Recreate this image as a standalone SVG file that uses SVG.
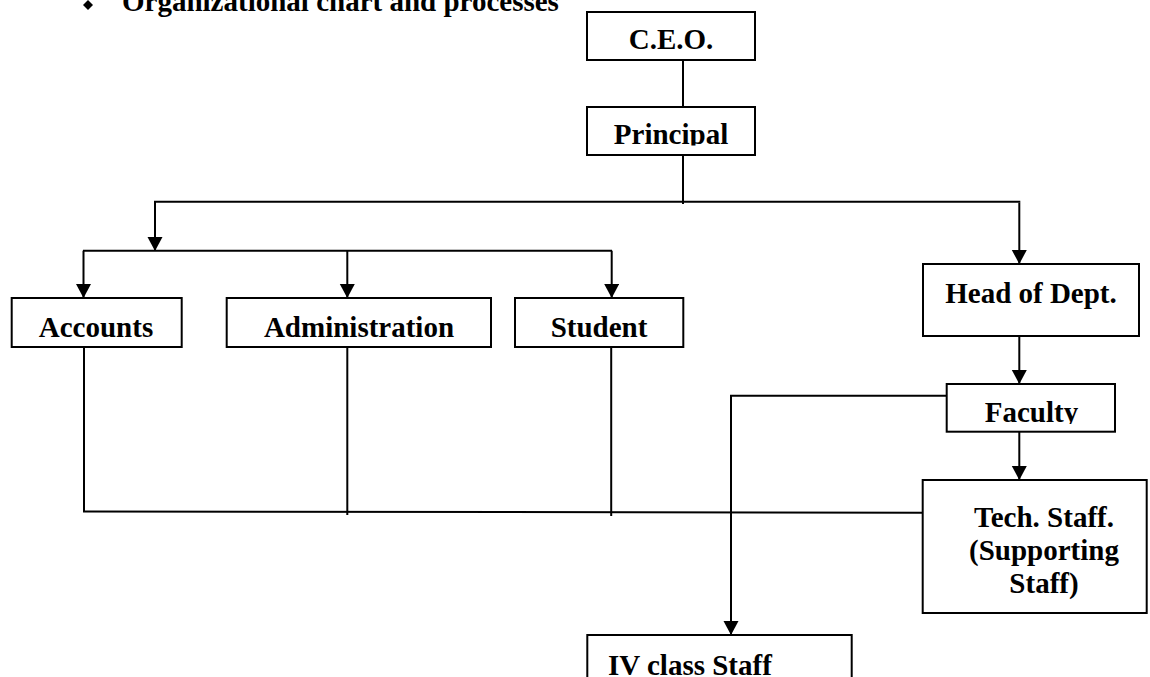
<svg xmlns="http://www.w3.org/2000/svg" width="1150" height="677" viewBox="0 0 1150 677">
<style>
.box{fill:#fff;stroke:#000;stroke-width:2}
.t{font-family:"Liberation Serif","Times New Roman",serif;font-weight:bold;font-size:29px;fill:#000}
.c{text-anchor:middle}
.ln{fill:none;stroke:#000;stroke-width:2}
</style>
<defs>
<marker id="ah" markerUnits="userSpaceOnUse" markerWidth="16" markerHeight="16" refX="14" refY="7.5" orient="auto">
<path d="M0,0 L14,7.5 L0,15 Z" fill="#000"/>
</marker>
<clipPath id="clipP"><rect x="587" y="107" width="168" height="38.5"/></clipPath>
<clipPath id="clipF"><rect x="946" y="384" width="170" height="40"/></clipPath>
</defs>
<rect width="1150" height="677" fill="#fff"/>
<g id="title">
<polygon points="88,0 93,5 88,10 83,5" fill="#000"/>
<text class="t" x="122" y="11">Organizational chart and processes</text>
</g>
<g id="connectors">
<line class="ln" x1="683" y1="60" x2="683" y2="107"/>
<line class="ln" x1="683" y1="155" x2="683" y2="204"/>
<line class="ln" x1="154" y1="201.7" x2="1020.3" y2="201.7"/>
<line class="ln" x1="155" y1="201.7" x2="155" y2="251" marker-end="url(#ah)"/>
<line class="ln" x1="1019.3" y1="202.7" x2="1019.3" y2="264" marker-end="url(#ah)"/>
<line class="ln" x1="83" y1="250.7" x2="612" y2="250.7"/>
<line class="ln" x1="83.5" y1="250.7" x2="83.5" y2="298" marker-end="url(#ah)"/>
<line class="ln" x1="347.3" y1="250.7" x2="347.3" y2="298" marker-end="url(#ah)"/>
<line class="ln" x1="611.7" y1="250.7" x2="611.7" y2="298" marker-end="url(#ah)"/>
<line class="ln" x1="1019.3" y1="336" x2="1019.3" y2="384" marker-end="url(#ah)"/>
<line class="ln" x1="1019.3" y1="432" x2="1019.3" y2="480" marker-end="url(#ah)"/>
<line class="ln" x1="84" y1="347" x2="84" y2="512"/>
<line class="ln" x1="347.3" y1="347" x2="347.3" y2="515"/>
<line class="ln" x1="611.2" y1="347" x2="611.2" y2="516"/>
<line class="ln" x1="83" y1="511.5" x2="923" y2="512.7"/>
<polyline class="ln" points="1043.3,395.7 731,395.7 731,635" marker-end="url(#ah)"/>
</g>
<g id="ceo">
<rect class="box" x="587" y="12" width="168" height="48"/>
<text class="t c" x="671" y="49">C.E.O.</text>
</g>
<g id="principal">
<rect class="box" x="587" y="107" width="168" height="48"/>
<text class="t c" x="671" y="144" clip-path="url(#clipP)">Principal</text>
</g>
<g id="accounts">
<rect class="box" x="11.7" y="298" width="170" height="49"/>
<text class="t c" x="96" y="337">Accounts</text>
</g>
<g id="administration">
<rect class="box" x="226.7" y="298" width="264.3" height="49"/>
<text class="t c" x="359" y="337">Administration</text>
</g>
<g id="student">
<rect class="box" x="515" y="298" width="168.3" height="49"/>
<text class="t c" x="599" y="337">Student</text>
</g>
<g id="head">
<rect class="box" x="923" y="264" width="216" height="72"/>
<text class="t c" x="1031" y="302.7">Head of Dept.</text>
</g>
<g id="faculty">
<rect class="box" x="946.7" y="384" width="168.3" height="47.7"/>
<text class="t c" x="1031.5" y="421.7" clip-path="url(#clipF)">Faculty</text>
</g>
<g id="tech">
<rect class="box" x="922.7" y="480" width="224" height="133"/>
<text class="t c" x="1044" y="527">Tech. Staff.</text>
<text class="t c" x="1044" y="560">(Supporting</text>
<text class="t c" x="1044" y="593">Staff)</text>
</g>
<g id="ivclass">
<rect class="box" x="587.3" y="635" width="264.4" height="60"/>
<text class="t" x="608" y="675">IV class Staff</text>
</g>
</svg>
